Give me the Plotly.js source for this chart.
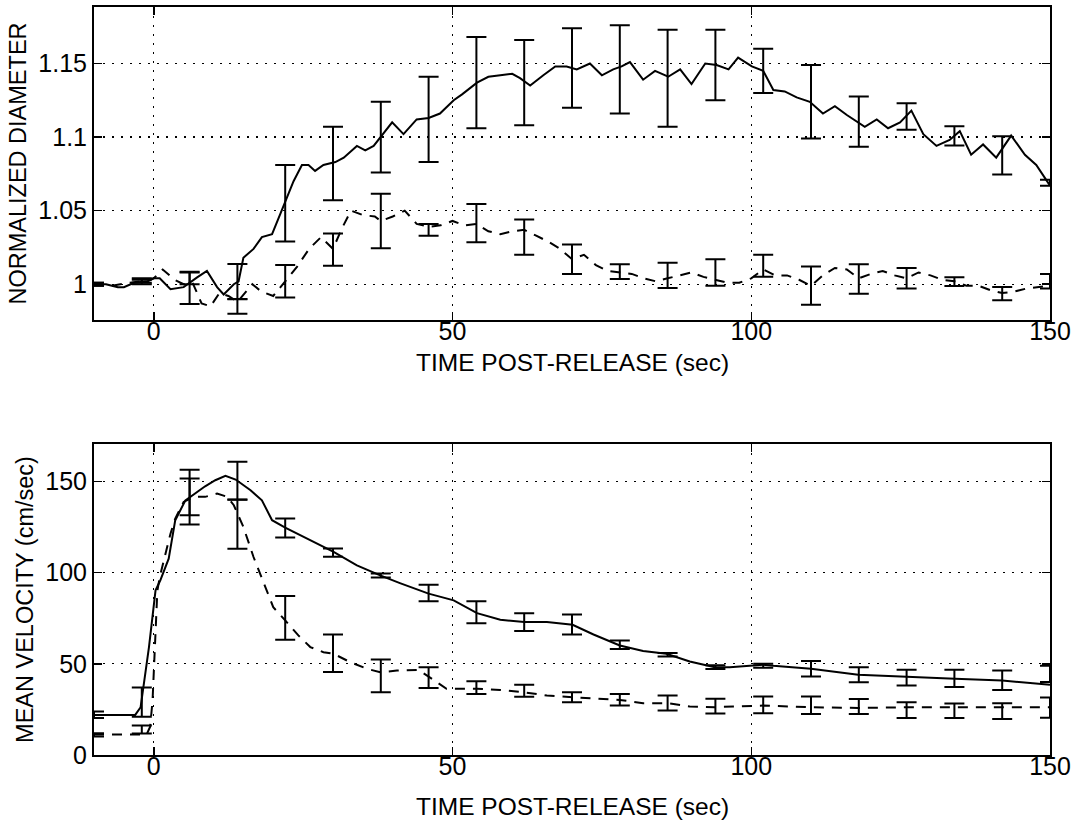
<!DOCTYPE html>
<html>
<head>
<meta charset="utf-8">
<script src="https://cdn.plot.ly/plotly-3.0.1.min.js"></script>
<style>html,body{margin:0;padding:0;background:#fff;}#chart{width:1078px;height:821px;}</style>
</head>
<body>
<div id="chart"></div>
<script>
// ---------- Top panel: normalized diameter ----------
const diamSolidX = [-10,-8,-6,-5,-3.3,-1,0,1,2.8,5,7.2,8.9,10.6,11.7,13.4,14.2,15,16.7,18.1,19.8,21.2,22.3,23.4,24.8,25.9,27,28.4,30.4,31.8,34,35.4,36.8,38.5,39.9,41.8,44,46,47.9,50.2,51.6,54.1,56,58,60,61.3,63,65.2,67.2,69.1,70.8,73,75,76.9,78.3,79.7,81.9,83.9,86.1,88.1,90,92.3,94.2,96.2,97.8,100.1,102,103.7,105.6,107.6,109.8,112,114,116,117.6,119,121,122.9,124.9,126.8,128.8,131,133.2,134.9,136.8,138.8,141,143.5,145.8,147.7,150];
const diamSolidY = [1.000,1.000,0.998,0.998,1.001,1.002,1.004,1.004,0.9966,0.998,1.0045,1.009,0.998,0.993,1.000,1.002,1.018,1.024,1.032,1.034,1.048,1.059,1.070,1.081,1.081,1.077,1.081,1.083,1.086,1.094,1.091,1.094,1.103,1.110,1.102,1.112,1.113,1.116,1.125,1.129,1.137,1.141,1.142,1.143,1.140,1.135,1.142,1.148,1.148,1.146,1.150,1.142,1.146,1.148,1.151,1.139,1.145,1.141,1.146,1.136,1.150,1.149,1.146,1.154,1.148,1.145,1.132,1.131,1.127,1.124,1.116,1.121,1.115,1.111,1.107,1.112,1.106,1.110,1.118,1.102,1.094,1.098,1.104,1.088,1.095,1.086,1.101,1.088,1.081,1.067];
const diamDashX = [-10,-7,-4,-2,0,1.5,3.5,5,6.5,8,9.5,11,12.5,14,16.5,18,20,22,24,26,28,30,31.5,33,35,37,38,40,42,44,46,48,50,52,54,56,58,60,62,64,66,68,70,72,74,76,78,80,82,84,86,88,90,92,94,96,98,100,102,104,106,108,110,112,114,116,118,120,122,124,126,128,130,132,134,136,138,140,142,144,146,148,150];
const diamDashY = [1.000,0.999,1.001,1.002,1.004,1.010,1.003,1.000,1.001,0.987,0.985,0.994,0.992,0.988,1.000,0.995,0.992,1.002,1.012,1.024,1.032,1.024,1.038,1.050,1.047,1.046,1.043,1.046,1.050,1.041,1.039,1.040,1.043,1.040,1.041,1.036,1.034,1.036,1.037,1.033,1.029,1.024,1.017,1.020,1.013,1.009,1.008,1.007,1.004,1.002,1.004,1.006,1.008,1.005,1.003,1.001,1.001,1.004,1.010,1.006,1.006,1.003,0.999,1.006,1.011,1.010,1.004,1.007,1.009,1.006,1.004,1.008,1.006,1.003,1.002,0.999,0.999,0.996,0.994,0.995,0.997,0.998,0.999];

// error-bar sample times (shared by both panels)
const barX = [-10,-2,6,14,22,30,38,46,54,62,70,78,86,94,102,110,118,126,134,142,150];
const diamSolidMean = [1.000,1.002,0.9975,1.0017,1.055,1.082,1.100,1.112,1.137,1.137,1.147,1.146,1.140,1.149,1.145,1.124,1.1105,1.114,1.1008,1.0875,1.069];
const diamSolidErr  = [0.001,0.001,0.011,0.012,0.026,0.025,0.024,0.029,0.031,0.029,0.027,0.030,0.033,0.024,0.015,0.025,0.017,0.009,0.0066,0.013,0.002];
const diamDashMean  = [1.000,1.002,1.004,0.985,1.002,1.0235,1.043,1.037,1.0415,1.032,1.017,1.0085,1.006,1.008,1.0125,0.999,1.0036,1.004,1.0017,0.9936,1.002];
const diamDashErr   = [0.001,0.002,0.004,0.005,0.011,0.011,0.0185,0.004,0.013,0.012,0.010,0.005,0.0085,0.009,0.0075,0.013,0.010,0.007,0.003,0.0045,0.005];

// ---------- Bottom panel: mean velocity ----------
const velSolidX = [-10,-3.1,-2.2,-1.7,-0.8,0.3,1.1,2.5,3.6,5.3,7.2,8.6,10.3,12,13.7,16.2,18.1,19.8,22,25.1,27.9,30.1,34,37.9,41.2,44.3,46,50.2,54.1,58,62,65.8,70.1,73.6,78,81.9,85.8,89.7,93.9,96.4,102,103.7,110,117.9,126,134.1,142,150];
const velSolidY = [22,22,26.2,37.2,59.2,90.3,95.8,107.7,128.8,139.7,144.3,147.4,150.7,153.1,151.1,145.2,139.7,128.8,124.7,119.6,115,111.4,104,98.5,94.3,90.3,88.5,84.8,77.8,74.2,72.9,72.9,71.4,66.1,60.1,57,55.5,51.3,48.2,48.2,49.5,48.9,47.3,44.0,42.7,41.8,40.8,38.6];
const velDashX = [-10,-1.2,-0.6,-0.2,0.2,0.6,1,2,2.8,3.6,5,6.7,8.6,10.6,12.3,13.4,15,16.7,18.4,20,22,24.2,26.2,28.4,30.1,32.9,35.7,37.9,40.7,44.3,46,49,54.1,58,62,65.8,70.1,73.6,78,81.9,86.1,89.7,93.9,97,102,110,117.9,126,134.1,142,150];
const velDashY = [11.2,11.2,15.5,30,60,90,97.6,110.4,121.4,129.7,138.8,141.6,141.6,143.4,141.6,137,125.1,108.6,94,81.1,73.8,65.6,59.2,56.4,55.5,50.9,47.3,45.4,46.3,46.7,43.0,36.3,36.3,35.7,34.4,32.6,31.7,31.1,30.2,28.4,28.4,26.6,26.2,26.6,27.1,26.2,25.8,26.2,26.2,26.2,26.2];
const velSolidMean = [22.1,29,144,150.5,124.5,111,98.4,88.9,78.3,72.9,71.6,60.5,55,48.2,48.9,47.3,44,42.4,42,41,44.5];
const velSolidErr  = [1.8,8,12.5,10.3,5.2,2.3,1.1,4.5,6,4.9,5.5,2.3,1,1,1.1,4.2,4.1,4.3,4.7,5.3,4.5];
const velDashMean  = [11,14,139,126.6,75.2,55.8,43.4,42.5,37,35.3,31.7,30.3,28.5,26.8,27.5,27.3,26.6,24.6,24.3,24.1,26];
const velDashErr   = [0.9,2.2,12.6,13.4,12,10.3,9,5.7,3.5,3.3,2.7,3.2,4.1,4,4.6,4.8,4.1,4.3,4,4.3,5.5];

// tick labels and titles
const xTicks = [0,50,100,150];
const xTickText = ['0','50','100','150'];
const diamTicks = [1,1.05,1.1,1.15];
const diamTickText = ['1','1.05','1.1','1.15'];
const velTicks = [0,50,100,150];
const velTickText = ['0','50','100','150'];
const xTitle = 'TIME POST-RELEASE (sec)';
const diamTitle = 'NORMALIZED DIAMETER';
const velTitle = 'MEAN VELOCITY (cm/sec)';

const FONT = 'Liberation Sans, Arial, Helvetica, sans-serif';
const FS = 25;
const FSX = 24.5;
const FSY = 23.5;
const DASH = '10px,8px';

function lineTrace(x, y, dash, xa, ya) {
  return {type:'scatter', mode:'lines', x:x, y:y, xaxis:xa, yaxis:ya,
    line:{color:'black', width:2, dash:dash}, hoverinfo:'skip', showlegend:false};
}
function barTrace(x, y, e, xa, ya) {
  return {type:'scatter', mode:'markers', x:x, y:y, xaxis:xa, yaxis:ya,
    marker:{size:1, color:'rgba(0,0,0,0)'},
    error_y:{type:'data', array:e, visible:true, color:'black', thickness:2, width:10},
    hoverinfo:'skip', showlegend:false};
}

const data = [
  lineTrace(diamSolidX, diamSolidY, 'solid', 'x', 'y'),
  lineTrace(diamDashX, diamDashY, DASH, 'x', 'y'),
  barTrace(barX, diamSolidMean, diamSolidErr, 'x', 'y'),
  barTrace(barX, diamDashMean, diamDashErr, 'x', 'y'),
  lineTrace(velSolidX, velSolidY, 'solid', 'x2', 'y2'),
  lineTrace(velDashX, velDashY, DASH, 'x2', 'y2'),
  barTrace(barX, velSolidMean, velSolidErr, 'x2', 'y2'),
  barTrace(barX, velDashMean, velDashErr, 'x2', 'y2')
];

function axisBase() {
  return {showline:true, linecolor:'black', linewidth:2, mirror:'ticks',
    ticks:'inside', ticklen:8, tickwidth:1.5, tickcolor:'black',
    showgrid:true, gridcolor:'black', gridwidth:1.2, griddash:'2px,7px',
    zeroline:false, tickfont:{family:FONT, size:FS, color:'black'}};
}
function ttl(t, s) { return {text:t, font:{family:FONT, size:FSY, color:'black'}, standoff:s}; }

const xTop = Object.assign(axisBase(), {anchor:'y', domain:[0,1], range:[-10,150],
  tickvals:xTicks, ticktext:xTickText, ticklabelstandoff:-12});
const xBot = Object.assign(axisBase(), {anchor:'y2', domain:[0,1], range:[-10,150],
  tickvals:xTicks, ticktext:xTickText, ticklabelstandoff:-12});
const yTop = Object.assign(axisBase(), {anchor:'x', domain:[0.5816,1], range:[0.9757,1.1884],
  tickvals:diamTicks, ticktext:diamTickText, title:ttl(diamTitle, 5)});
const yBot = Object.assign(axisBase(), {anchor:'x2', domain:[0,0.4158], range:[0,170.6],
  tickvals:velTicks, ticktext:velTickText, title:ttl(velTitle, 5)});

function xAnn(yPaper) {
  return {text:xTitle, xref:'paper', yref:'paper', x:0.5, y:yPaper, xanchor:'center', yanchor:'middle',
    showarrow:false, font:{family:FONT, size:FSX, color:'black'}};
}

const layout = {
  width:1078, height:821,
  margin:{l:94, r:28, t:7, b:66},
  paper_bgcolor:'white', plot_bgcolor:'white',
  font:{family:FONT, color:'black'},
  showlegend:false,
  xaxis:xTop, yaxis:yTop, xaxis2:xBot, yaxis2:yBot,
  annotations:[xAnn(0.5254), xAnn(-0.0682)]
};

Plotly.newPlot('chart', data, layout, {staticPlot:true, displayModeBar:false});
</script>
</body>
</html>
